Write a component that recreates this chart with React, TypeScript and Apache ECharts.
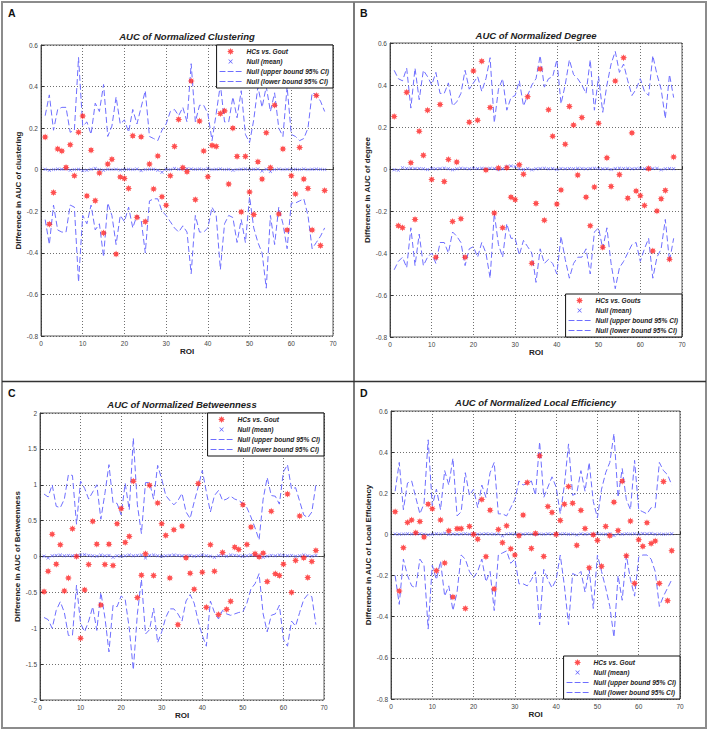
import React, { useEffect, useRef } from 'react';
import * as echarts from 'echarts';

// ROI indices (categories on the x axis)
const ROI = Array.from({ length: 68 }, (_, i) => i + 1);

// ---------- A: Normalized Clustering ----------
const clusteringHC = [
  0.157, -0.262, -0.11, 0.10, 0.09, 0.011, 0.12, -0.029, 0.18, 0.258,
  -0.126, 0.094, -0.149, -0.016, -0.304, 0.027, 0.05, -0.406, -0.035, -0.042,
  -0.09, 0.163, -0.229, 0.158, -0.25, 0.027, -0.093, 0.066, -0.13, -0.171,
  -0.029, 0.112, 0.242, 0.01, -0.01, 0.427, -0.144, 0.234, 0.09, -0.034,
  0.117, 0.112, 0.27, 0.283, -0.069, 0.2, 0.064, -0.203, 0.064, -0.107,
  -0.216, 0.038, -0.045, 0.178, 0.01, 0.31, -0.213, 0.1, -0.29, -0.029,
  -0.117, 0.107, -0.045, -0.09, -0.29, 0.357, -0.365, -0.1,
];
const clusteringMean = [
  0.002, -0.003, 0.001, 0.003, 0.002, 0.003, -0.002, 0.001, 0.002, -0.004,
  -0.002, 0.002, 0.006, 0.001, -0.002, 0.002, 0.001, 0.002, -0.001, 0.001,
  0.002, 0.001, 0.003, -0.004, 0.001, 0.002, 0.002, -0.002, -0.012, 0.002,
  0.001, 0.006, 0.002, 0.003, 0.005, 0.004, 0.002, 0.003, 0.001, 0.006,
  0.001, 0.002, 0.004, 0.001, 0.002, -0.002, 0.001, 0.002, 0.003, 0.001,
  0.002, 0.003, -0.006, 0.002, -0.008, 0.001, 0.003, 0.001, 0.002, 0.001,
  0.002, 0.001, 0.003, 0.001, 0.002, 0.003, 0.002, 0.001,
];
const clusteringUpper = [
  0.26, 0.36, 0.19, 0.29, 0.30, 0.30, 0.18, 0.19, 0.54, 0.21,
  0.23, 0.17, 0.32, 0.28, 0.41, 0.16, 0.21, 0.35, 0.22, 0.24,
  0.18, 0.29, 0.22, 0.30, 0.38, 0.16, 0.15, 0.14, 0.19, 0.22,
  0.28, 0.29, 0.26, 0.30, 0.23, 0.51, 0.23, 0.31, 0.31, 0.27,
  0.14, 0.27, 0.41, 0.23, 0.23, 0.35, 0.25, 0.38, 0.17, 0.13,
  0.24, 0.40, 0.30, 0.40, 0.28, 0.37, 0.20, 0.16, 0.40, 0.17,
  0.16, 0.14, 0.15, 0.20, 0.37, 0.36, 0.33, 0.28,
];
const clusteringLower = [
  -0.24, -0.36, -0.17, -0.29, -0.30, -0.30, -0.17, -0.18, -0.54, -0.22,
  -0.26, -0.17, -0.29, -0.26, -0.42, -0.16, -0.22, -0.36, -0.22, -0.25,
  -0.18, -0.28, -0.22, -0.24, -0.40, -0.15, -0.14, -0.14, -0.20, -0.22,
  -0.25, -0.28, -0.30, -0.27, -0.30, -0.50, -0.22, -0.30, -0.30, -0.28,
  -0.18, -0.22, -0.48, -0.26, -0.22, -0.23, -0.35, -0.24, -0.35, -0.13,
  -0.28, -0.35, -0.40, -0.57, -0.22, -0.36, -0.18, -0.26, -0.38, -0.16,
  -0.16, -0.15, -0.14, -0.22, -0.38, -0.35, -0.32, -0.28,
];

// ---------- B: Normalized Degree ----------
const degreeHC = [
  0.25, -0.27, -0.28, 0.365, 0.03, -0.24, 0.18, 0.065, 0.28, -0.05,
  -0.42, 0.307, -0.06, 0.045, -0.25, 0.033, -0.237, -0.42, 0.223, 0.467,
  0.232, 0.513, -0.005, 0.293, -0.21, 0.005, -0.28, 0.006, -0.134, -0.146,
  0.02, -0.025, 0.344, -0.449, -0.164, 0.476, -0.244, 0.282, 0.156, -0.167,
  -0.1, 0.118, 0.298, 0.209, -0.029, 0.245, -0.134, -0.27, -0.086, 0.218,
  -0.373, 0.053, -0.083, 0.419, -0.027, 0.53, -0.139, 0.172, -0.105, -0.127,
  -0.174, 0.002, -0.39, -0.2, -0.142, -0.102, -0.43, 0.057,
];
const degreeMean = [
  -0.003, -0.006, 0.006, 0.002, 0.003, 0.002, 0.002, 0.001, -0.002, 0.002,
  0.001, 0.002, 0.004, 0.001, -0.003, 0.001, 0.003, 0.002, 0.001, 0.003,
  0.002, 0.003, 0.001, 0.003, 0.002, -0.002, 0.001, 0.012, 0.014, 0.011,
  0.001, -0.002, 0.002, -0.003, 0.001, 0.002, 0.003, 0.001, 0.002, -0.002,
  0.002, 0.001, 0.002, 0.001, 0.003, 0.002, 0.001, 0.002, 0.003, 0.002,
  0.001, 0.002, -0.002, 0.002, 0.004, 0.002, 0.003, 0.001, 0.002, 0.003,
  0.001, 0.003, 0.002, 0.003, -0.003, 0.001, 0.002, 0.001,
];
const degreeUpper = [
  0.47, 0.43, 0.42, 0.48, 0.29, 0.48, 0.33, 0.47, 0.44, 0.40,
  0.46, 0.36, 0.36, 0.41, 0.30, 0.32, 0.36, 0.47, 0.38, 0.41,
  0.44, 0.37, 0.43, 0.53, 0.22, 0.38, 0.43, 0.28, 0.34, 0.35,
  0.42, 0.30, 0.35, 0.40, 0.43, 0.54, 0.39, 0.43, 0.44, 0.52,
  0.31, 0.40, 0.52, 0.45, 0.43, 0.40, 0.36, 0.52, 0.28, 0.44,
  0.27, 0.40, 0.50, 0.56, 0.46, 0.50, 0.42, 0.35, 0.38, 0.43,
  0.37, 0.35, 0.54, 0.45, 0.38, 0.24, 0.45, 0.34,
];
const degreeLower = [
  -0.48, -0.44, -0.42, -0.47, -0.28, -0.46, -0.31, -0.46, -0.42, -0.40,
  -0.45, -0.35, -0.35, -0.40, -0.30, -0.32, -0.35, -0.46, -0.38, -0.37,
  -0.42, -0.35, -0.40, -0.52, -0.21, -0.36, -0.42, -0.26, -0.33, -0.33,
  -0.41, -0.34, -0.37, -0.40, -0.54, -0.38, -0.45, -0.43, -0.45, -0.50,
  -0.32, -0.43, -0.52, -0.45, -0.42, -0.42, -0.38, -0.50, -0.30, -0.28,
  -0.38, -0.28, -0.45, -0.57, -0.47, -0.44, -0.40, -0.36, -0.35, -0.44,
  -0.38, -0.33, -0.52, -0.42, -0.38, -0.24, -0.44, -0.33,
];

// ---------- C: Normalized Betweenness ----------
const betweennessHC = [
  -0.49, -0.205, 0.31, -0.107, 0.163, -0.48, -0.30, 0.387, 0.0, -1.14,
  -0.466, -0.112, 0.49, 0.172, -0.676, -0.112, 0.172, -0.126, 0.457, 0.667,
  0.196, 0.28, 1.05, -0.573, -0.26, 0.037, 0.993, -0.266, 0.746, 0.457,
  0.294, -0.30, 0.373, -0.95, 0.424, -0.019, -0.233, -0.457, 1.016, -0.219,
  -0.709, 0.163, -0.205, -0.81, 0.056, -0.737, -0.625, 0.13, 0.098, 0.722,
  0.168, 0.41, 0.037, -0.005, 0.047, -0.35, 0.63, -0.242, -0.266, -0.107,
  0.87, -0.50, -0.056, 0.564, -0.019, -0.294, -0.07, 0.084,
];
const betweennessMean = [
  0.005, -0.02, 0.01, 0.015, 0.02, 0.01, 0.015, 0.01, 0.012, 0.02,
  0.025, 0.015, 0.01, 0.005, 0.02, 0.01, 0.015, -0.01, 0.01, 0.005,
  0.01, 0.02, 0.01, 0.015, 0.02, -0.02, 0.015, 0.02, 0.01, 0.005,
  0.01, 0.015, 0.02, 0.015, 0.01, 0.01, 0.015, 0.005, 0.01, 0.02,
  0.01, 0.005, -0.01, 0.01, 0.015, 0.005, 0.02, 0.015, 0.01, 0.005,
  0.01, 0.02, 0.015, 0.01, -0.01, 0.005, 0.015, 0.01, 0.02, 0.015,
  0.01, 0.015, 0.005, 0.01, 0.02, 0.01, 0.005, 0.015,
];
const betweennessUpper = [
  0.87, 0.83, 1.0, 0.70, 0.68, 0.80, 1.14, 1.13, 0.45, 1.05,
  0.95, 0.80, 0.90, 1.0, 0.52, 0.88, 1.28, 0.75, 0.74, 0.58,
  1.02, 0.65, 1.65, 0.72, 0.32, 1.03, 1.03, 0.80, 1.27, 1.08,
  0.85, 0.78, 0.72, 0.78, 0.88, 0.62, 0.53, 0.76, 0.97, 1.2,
  0.90, 0.62, 0.85, 0.92, 0.78, 0.80, 0.84, 0.80, 0.78, 0.74,
  0.68, 0.55, 0.40, 0.23, 0.80, 1.10, 0.85, 0.84, 0.73, 1.18,
  1.28, 0.94, 0.96, 0.77, 0.58, 0.54, 0.62, 1.0,
];
const betweennessLower = [
  -0.85, -0.88, -1.0, -0.75, -0.63, -0.78, -1.1, -1.1, -0.40, -0.93,
  -1.05, -0.90, -0.70, -1.03, -0.50, -0.85, -1.33, -0.68, -0.70, -0.55,
  -0.60, -1.0, -1.58, -0.80, -0.32, -1.08, -1.02, -0.72, -1.2, -1.05,
  -0.85, -0.73, -0.73, -0.80, -0.90, -0.62, -0.53, -0.65, -0.90, -1.1,
  -1.25, -0.62, -0.78, -0.87, -0.75, -0.80, -0.82, -0.80, -0.78, -0.77,
  -0.65, -0.45, -0.38, -0.24, -0.80, -1.05, -0.82, -0.80, -0.68, -1.15,
  -1.25, -0.90, -0.97, -0.78, -0.60, -0.53, -0.56, -0.95,
];

// ---------- D: Normalized Local Efficiency ----------
const efficiencyHC = [
  0.11, -0.275, -0.065, 0.058, 0.07, 0.008, 0.063, -0.013, 0.147, 0.125,
  -0.176, 0.07, -0.139, 0.018, -0.304, 0.028, 0.028, -0.36, 0.039, 0.0,
  -0.023, 0.17, -0.108, 0.118, -0.265, 0.024, -0.04, 0.042, -0.07, -0.1,
  -0.006, 0.094, 0.252, -0.068, 0.005, 0.382, -0.107, 0.136, 0.107, 0.0,
  0.068, 0.147, 0.233, 0.152, -0.053, 0.117, 0.029, -0.162, -0.002, -0.029,
  -0.155, 0.039, -0.006, 0.157, 0.019, 0.259, -0.104, 0.065, -0.238, -0.026,
  -0.058, 0.057, -0.044, -0.032, -0.238, 0.257, -0.322, -0.079,
];
const efficiencyMean = [
  0.002, 0.001, 0.002, 0.003, 0.002, 0.004, 0.003, 0.001, -0.002, 0.001,
  0.003, 0.002, 0.006, 0.001, 0.002, 0.001, 0.002, 0.003, 0.001, 0.002,
  0.001, 0.002, 0.003, 0.002, 0.001, 0.002, -0.006, 0.002, 0.003, 0.001,
  0.002, 0.001, 0.003, 0.002, 0.001, 0.002, 0.001, 0.003, 0.002, 0.001,
  0.002, 0.003, 0.001, 0.002, -0.002, 0.003, 0.001, 0.002, 0.001, 0.003,
  0.002, 0.001, 0.003, -0.005, 0.002, 0.001, 0.003, 0.002, 0.003, 0.001,
  0.004, 0.003, 0.005, 0.001, 0.002, 0.001, 0.002, 0.003,
];
const efficiencyUpper = [
  0.21, 0.35, 0.12, 0.25, 0.26, 0.18, 0.10, 0.15, 0.46, 0.14,
  0.22, 0.12, 0.31, 0.24, 0.37, 0.09, 0.11, 0.30, 0.19, 0.22,
  0.13, 0.24, 0.18, 0.30, 0.35, 0.10, 0.10, 0.09, 0.13, 0.17,
  0.26, 0.24, 0.25, 0.26, 0.19, 0.45, 0.18, 0.23, 0.28, 0.23,
  0.10, 0.24, 0.44, 0.19, 0.20, 0.31, 0.21, 0.35, 0.16, 0.08,
  0.22, 0.30, 0.35, 0.49, 0.18, 0.32, 0.17, 0.12, 0.36, 0.12,
  0.11, 0.10, 0.13, 0.13, 0.35, 0.31, 0.29, 0.24,
];
const efficiencyLower = [
  -0.20, -0.34, -0.12, -0.20, -0.25, -0.26, -0.12, -0.15, -0.46, -0.15,
  -0.22, -0.13, -0.30, -0.25, -0.37, -0.28, -0.10, -0.12, -0.18, -0.21,
  -0.18, -0.12, -0.23, -0.18, -0.37, -0.10, -0.09, -0.08, -0.14, -0.12,
  -0.24, -0.24, -0.25, -0.22, -0.18, -0.44, -0.17, -0.22, -0.26, -0.22,
  -0.10, -0.25, -0.44, -0.19, -0.20, -0.18, -0.28, -0.17, -0.36, -0.10,
  -0.18, -0.26, -0.35, -0.50, -0.20, -0.32, -0.10, -0.22, -0.30, -0.11,
  -0.10, -0.10, -0.12, -0.18, -0.35, -0.30, -0.26, -0.22,
];

// ---------- styling ----------
const FONT = '"Liberation Sans", Arial, sans-serif';
const RED = '#ff2424';
const BLUE = '#6e6eff';
const BLUE_MARK = '#6060ff';
const STAR =
  'path://M5,0L6.1,2.4L8.54,1.46L7.6,3.9L10,5L7.6,6.1L8.54,8.54L6.1,7.6L5,10L3.9,7.6L1.46,8.54L2.4,6.1L0,5L2.4,3.9L1.46,1.46L3.9,2.4Z';
const XMARK = 'path://M1,0L5,4L9,0L10,1L6,5L10,9L9,10L5,6L1,10L0,9L4,5L0,1Z';
// same cross, padded with invisible corner specks so the legend draws it small
const XMARK_LEGEND =
  'path://M-3,-3h0.01v0.01h-0.01zM13,13h0.01v0.01h-0.01zM1,0L5,4L9,0L10,1L6,5L10,9L9,10L5,6L1,10L0,9L4,5L0,1Z';
const DASH = 'path://M0,0h8v1.5h-8zM11,0h8v1.5h-8zM22,0h8v1.5h-8z';

const MEAN_NAME = 'Null (mean)';
const UPPER_NAME = 'Null (upper bound 95% CI)';
const LOWER_NAME = 'Null (lower bound 95% CI)';

const panels = [
  {
    label: 'A', labelX: 8, labelY: 13,
    title: 'AUC of Normalized Clustering', titleY: 36,
    yName: 'Difference in AUC of clustering', nameGap: 17,
    hcName: 'HCs vs. Gout',
    hc: clusteringHC, mean: clusteringMean, upper: clusteringUpper, lower: clusteringLower,
    yMin: -0.8, yMax: 0.6, yStep: 0.2,
    grid: { left: 41, top: 45, width: 292, height: 291 },
    legend: { right: 375, top: 45 },
  },
  {
    label: 'B', labelX: 360, labelY: 13,
    title: 'AUC of Normalized Degree', titleY: 35,
    yName: 'Difference in AUC of degree', nameGap: 17,
    hcName: 'HCs vs. Gouts',
    hc: degreeHC, mean: degreeMean, upper: degreeUpper, lower: degreeLower,
    yMin: -0.8, yMax: 0.6, yStep: 0.2,
    grid: { left: 390, top: 43, width: 292, height: 294 },
    legend: { right: 26, bottom: 393 },
  },
  {
    label: 'C', labelX: 8, labelY: 393,
    title: 'AUC of Normalized Betweenness', titleY: 404,
    yName: 'Difference in AUC of Betweenness', nameGap: 18,
    hcName: 'HCs vs. Gout',
    hc: betweennessHC, mean: betweennessMean, upper: betweennessUpper, lower: betweennessLower,
    yMin: -2, yMax: 2, yStep: 0.5,
    grid: { left: 40, top: 413, width: 284, height: 287 },
    legend: { right: 384, top: 413 },
  },
  {
    label: 'D', labelX: 360, labelY: 393,
    title: 'AUC of Normalized Local Efficiency', titleY: 402,
    yName: 'Difference in AUC of Local Efficiency', nameGap: 18,
    hcName: 'HCs vs. Gout',
    hc: efficiencyHC, mean: efficiencyMean, upper: efficiencyUpper, lower: efficiencyLower,
    yMin: -0.8, yMax: 0.6, yStep: 0.2,
    grid: { left: 391, top: 411, width: 289, height: 288 },
    legend: { right: 28, bottom: 31 },
  },
];

const pairs = (arr: number[]) => ROI.map((r, i) => [r, arr[i]]);

function buildOption() {
  const grid: any[] = [];
  const xAxis: any[] = [];
  const yAxis: any[] = [];
  const series: any[] = [];
  const legend: any[] = [];
  const graphic: any[] = [];

  const splitStyle = { type: [1, 2], color: '#4a4a4a', width: 0.8 };
  const labelStyle = { fontSize: 6.5, color: '#444', fontFamily: FONT };

  panels.forEach((p, i) => {
    grid.push({ ...p.grid, show: true, borderColor: '#333', borderWidth: 0.8, backgroundColor: '#fff' });
    xAxis.push({
      type: 'value', gridIndex: i, min: 0, max: 70, interval: 10,
      name: 'ROI', nameLocation: 'middle', nameGap: 11,
      nameTextStyle: { fontFamily: FONT, fontWeight: 'bold', fontSize: 8, color: '#222' },
      axisLine: { show: true, lineStyle: { color: '#333', width: 0.8 } },
      axisTick: { show: true, inside: true, length: 3, lineStyle: { color: '#333' } },
      axisLabel: { ...labelStyle, margin: 4 },
      splitLine: { show: true, lineStyle: splitStyle },
    });
    yAxis.push({
      type: 'value', gridIndex: i, min: p.yMin, max: p.yMax, interval: p.yStep,
      name: p.yName, nameLocation: 'middle', nameGap: p.nameGap,
      nameTextStyle: { fontFamily: FONT, fontWeight: 'bold', fontSize: 8, color: '#222' },
      axisLine: { show: true, lineStyle: { color: '#333', width: 0.8 } },
      axisTick: { show: true, inside: true, length: 3, lineStyle: { color: '#333' } },
      axisLabel: { ...labelStyle, margin: 3 },
      splitLine: { show: true, lineStyle: splitStyle },
    });

    series.push({
      name: UPPER_NAME, type: 'line', xAxisIndex: i, yAxisIndex: i,
      data: pairs(p.upper), symbol: 'none', color: BLUE,
      itemStyle: { color: BLUE },
      lineStyle: { color: BLUE, width: 1, type: [6, 3] }, z: 2,
    });
    series.push({
      name: LOWER_NAME, type: 'line', xAxisIndex: i, yAxisIndex: i,
      data: pairs(p.lower), symbol: 'none', color: BLUE,
      itemStyle: { color: BLUE },
      lineStyle: { color: BLUE, width: 1, type: [6, 3] }, z: 2,
    });
    series.push({
      name: MEAN_NAME, type: 'line', xAxisIndex: i, yAxisIndex: i,
      data: pairs(p.mean), symbol: XMARK, symbolSize: 3.5, showAllSymbol: true,
      color: BLUE_MARK, itemStyle: { color: BLUE_MARK },
      lineStyle: { color: '#8a8aff', width: 0.7, type: [1, 1.5] }, z: 3,
    });
    series.push({
      name: p.hcName, type: 'scatter', xAxisIndex: i, yAxisIndex: i,
      data: pairs(p.hc), symbol: STAR, symbolSize: 7,
      color: RED, itemStyle: { color: RED }, z: 5,
    });

    legend.push({
      ...p.legend,
      orient: 'vertical',
      selectedMode: false,
      itemWidth: 22, itemHeight: 7, itemGap: 3,
      padding: [3, 4, 3, 3],
      backgroundColor: '#fff', borderColor: '#111', borderWidth: 1,
      itemStyle: { borderWidth: 0 },
      textStyle: { fontFamily: FONT, fontSize: 6.6, fontStyle: 'italic', fontWeight: 'bold', color: '#222' },
      data: [
        { name: p.hcName, icon: STAR, itemStyle: { color: RED, borderWidth: 0 } },
        { name: MEAN_NAME, icon: XMARK_LEGEND, itemStyle: { color: BLUE_MARK, borderWidth: 0 } },
        { name: UPPER_NAME, icon: DASH, itemStyle: { color: BLUE, borderWidth: 0 } },
        { name: LOWER_NAME, icon: DASH, itemStyle: { color: BLUE, borderWidth: 0 } },
      ],
      z: 10,
    });

    graphic.push({
      type: 'text', x: p.grid.left + p.grid.width / 2, y: p.titleY, z: 10,
      style: {
        text: p.title, fill: '#222', align: 'center', verticalAlign: 'middle',
        font: `italic bold 9.5px ${FONT}`,
      },
    });
    graphic.push({
      type: 'text', x: p.labelX, y: p.labelY, z: 10,
      style: { text: p.label, fill: '#111', align: 'left', verticalAlign: 'middle', font: `bold 10.5px ${FONT}` },
    });
  });

  // panel frames
  graphic.push({
    type: 'rect', z: 0, silent: true,
    shape: { x: 2, y: 2, width: 704, height: 726 },
    style: { fill: 'none', stroke: '#8c8c8c', lineWidth: 2 },
  });
  graphic.push({
    type: 'line', z: 0, silent: true,
    shape: { x1: 354, y1: 2, x2: 354, y2: 728 },
    style: { stroke: '#7a7a7a', lineWidth: 2 },
  });
  graphic.push({
    type: 'line', z: 0, silent: true,
    shape: { x1: 2, y1: 381.5, x2: 706, y2: 381.5 },
    style: { stroke: '#333', lineWidth: 1.5 },
  });

  return {
    animation: false,
    backgroundColor: '#fff',
    textStyle: { fontFamily: FONT },
    grid, xAxis, yAxis, series, legend, graphic,
  };
}

export default function App() {
  const ref = useRef<HTMLDivElement>(null);
  useEffect(() => {
    if (!ref.current) return;
    const chart = echarts.init(ref.current, undefined, { renderer: 'svg' });
    chart.setOption(buildOption() as any);
    return () => chart.dispose();
  }, []);
  return (
    <div
      ref={ref}
      style={{ position: 'absolute', left: 0, top: 0, width: 708, height: 730, background: '#fff' }}
    />
  );
}
